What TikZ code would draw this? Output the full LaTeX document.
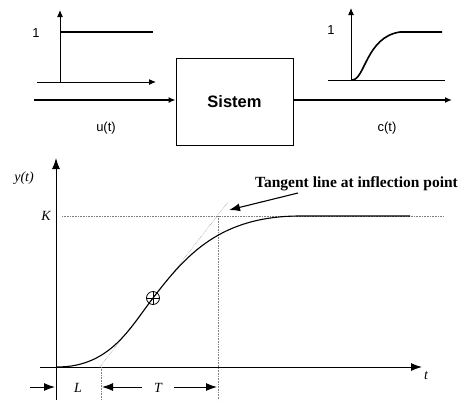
\documentclass[tikz,border=0pt]{standalone}
\usepackage{fontspec}
\setmainfont{Liberation Serif}
\newfontfamily\arial{Liberation Sans}
\usetikzlibrary{arrows.meta}
\begin{document}
\begin{tikzpicture}[x=1pt,y=-1pt,
  ln/.style={line width=1pt},
  sig/.style={line width=1.6pt},
  dots/.style={densely dotted, gray, line width=0.6pt},
  tipS/.style={-{Latex[length=7pt,width=6pt]}},
  tipB/.style={-{Latex[length=11pt,width=8pt]}},
  lbl/.style={font=\arial\fontsize{13}{15}\selectfont, inner sep=0pt},
  ital/.style={font=\itshape\fontsize{14}{16}\selectfont, inner sep=0pt}]
\useasboundingbox (0,0) rectangle (466,400);
% ---------- top: step input
\coordinate (ua0) at (60,82); \coordinate (ua1) at (60,10);
\coordinate (ub0) at (37,82); \coordinate (ub1) at (156,82);
\draw[ln,tipS] (ua0) -- (ua1);
\draw[ln,tipS] (ub0) -- (ub1);
\coordinate (s0) at (60,32); \coordinate (s1) at (153,32);
\draw[sig] (s0) -- (s1);
\node[lbl] (one1) at (36,33) {1};
% ---------- system box
\node[draw, line width=0.8pt, minimum width=117pt, minimum height=87pt, inner sep=0pt,
      font=\arial\bfseries\fontsize{16.5}{18}\selectfont] (sys) at (234.5,101.5) {Sistem};
\coordinate (in) at (34,100); \coordinate (out) at (452,100);
\draw[sig,tipS] (in) -- (sys.west |- in);
\draw[sig,tipS] (sys.east |- out) -- (out);
\node[lbl] (u) at (106,128) {u(t)};
\node[lbl] (c) at (387,128) {c(t)};
% ---------- top: output response
\coordinate (ca0) at (351,80); \coordinate (ca1) at (351,8);
\coordinate (cb0) at (328,80); \coordinate (cb1) at (445,80);
\draw[ln,tipS] (ca0) -- (ca1);
\draw[ln] (cb0) -- (cb1);
\node[lbl] (one2) at (331,30) {1};
\coordinate (r0) at (352,80); \coordinate (r1) at (400,32); \coordinate (r2) at (442,32);
\draw[sig] (r0) .. controls (365,80) and (366,37) .. (r1) -- (r2);
% ---------- bottom: axes
\coordinate (ya0) at (56,400); \coordinate (ya1) at (56,158);
\coordinate (xa0) at (40,367); \coordinate (xa1) at (422,367);
\draw[ln,tipB] (ya0) -- (ya1);
\draw[ln,tipB] (xa0) -- (xa1);
\node[ital] (yt) at (24,178) {y(t)};
\node[ital] (tt) at (426,376) {t};
\node[ital] (K) at (46,216) {K};
% dotted guides
\coordinate (k0) at (62,216); \coordinate (k1) at (444,216);
\draw[dots] (k0) -- (k1);
\coordinate (kp) at (218,216); \coordinate (kpb) at (218,400);
\draw[dots] (kp) -- (kpb);
\coordinate (lp) at (101,367); \coordinate (lpb) at (101,400);
\draw[dots] (lp) -- (lpb);
% tangent line
\coordinate (ip0) at (153,298);
\coordinate (tg0) at (99,368); \coordinate (tg1) at (228,202);
\draw[dots, line width=0.5pt] (tg0) -- (tg1);
% response curve
\coordinate (c0) at (57,367); \coordinate (c3) at (300,216); \coordinate (c4) at (410,216);
\draw[line width=1.1pt] (c0) .. controls (110,367) and (130,328) .. (ip0)
   .. controls (186,255) and (220,216) .. (c3) -- (c4);
% inflection marker
\node[circle, draw, line width=0.8pt, minimum size=13pt, inner sep=0pt] (ip) at (ip0) {};
\draw[line width=0.8pt] (ip.north) -- (ip.south) (ip.west) -- (ip.east);
% annotation
\node[font=\bfseries\fontsize{15.5}{18}\selectfont, inner sep=0pt, anchor=west] (ann) at (255,184) {Tangent line at inflection point};
\coordinate (aa0) at (298,193);
\draw[line width=1.1pt, tipB] (aa0) -- (229,210);
% L and T
\coordinate (la0) at (30,387); \coordinate (la1) at (55,387);
\draw[ln,tipB] (la0) -- (la1);
\node[ital] (L) at (78,388) {L};
\node[ital] (T) at (158,388) {T};
\coordinate (ta0) at (142,387); \coordinate (ta1) at (102,387);
\coordinate (tb0) at (174,387); \coordinate (tb1) at (217,387);
\draw[ln,tipB] (ta0) -- (ta1);
\draw[ln,tipB] (tb0) -- (tb1);
\end{tikzpicture}
\end{document}
